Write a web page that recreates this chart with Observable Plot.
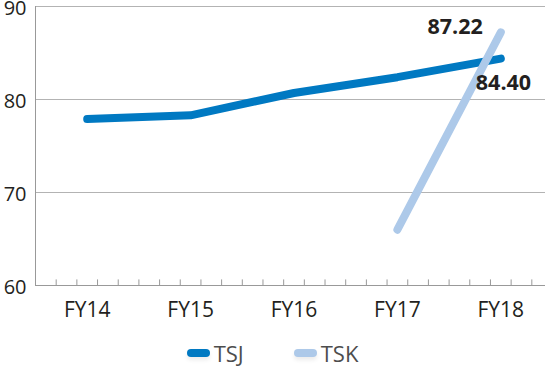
<!DOCTYPE html>
<html>
<head>
<meta charset="utf-8">
<script src="https://cdn.jsdelivr.net/npm/d3@7"></script>
<script src="https://cdn.jsdelivr.net/npm/@observablehq/plot@0.6"></script>
<style>
  html, body { margin: 0; padding: 0; background: #fff; }
  body { width: 545px; height: 375px; overflow: hidden; font-family: "Open Sans", sans-serif; }
  #legend { display: flex; justify-content: center; align-items: center; height: 45px; font-size: 22px; color: #4d4d4d; }
  .item { display: flex; align-items: center; }
  .swatch { width: 23px; height: 8px; border-radius: 4px; margin-right: 4px; box-shadow: 0 3px 4px rgba(0,0,0,0.08); }
</style>
</head>
<body>
<div id="chart"></div>
<div id="legend"></div>
<script>
const categories = ["FY14", "FY15", "FY16", "FY17", "FY18"];
const seriesNames = ["TSJ", "TSK"];
const tsj = [77.9, 78.3, 80.7, 82.4, 84.40];
const tsk = [null, null, null, 66.0, 87.22];
const yTicks = [60, 70, 80, 90];
const colors = ["#0079c2", "#adc9e9"];

const rows = [];
categories.forEach((c, i) => {
  if (tsj[i] != null) rows.push({i, cat: c, series: "TSJ", value: tsj[i]});
  if (tsk[i] != null) rows.push({i, cat: c, series: "TSK", value: tsk[i]});
});
const last = categories.length - 1;
const minorTicks = d3.range(1, categories.length * 5).map(k => -0.5 + k * 0.2);

const chart = Plot.plot({
  width: 545,
  height: 330,
  marginLeft: 35,
  marginRight: 0,
  marginTop: 6,
  marginBottom: 45,
  style: {fontFamily: "Open Sans, sans-serif", color: "#231f20", background: "#fff", overflow: "hidden"},
  x: {type: "linear", domain: [-0.5, categories.length - 0.5], range: [35, 552]},
  y: {domain: [60, 90], axis: null},
  color: {domain: seriesNames, range: colors},
  marks: [
    Plot.ruleY(yTicks.filter(d => d > 60), {stroke: "#b3b3b3", strokeWidth: 1}),
    Plot.ruleY([60], {stroke: "#999", strokeWidth: 1}),
    Plot.ruleX([-0.5], {stroke: "#999", strokeWidth: 1}),
    Plot.ruleX(minorTicks, {x: d => d, y1: 60, y2: 60.6, stroke: "#999", strokeWidth: 1}),
    Plot.text(yTicks, {x: -0.5, y: d => d, text: d => String(d), textAnchor: "end", dx: -9, dy: 2.5, fontSize: 20, fill: "#231f20"}),
    Plot.axisX({ticks: d3.range(categories.length), tickFormat: i => categories[i], tickSize: 0, tickPadding: 17, fontSize: 21, fill: "#231f20", label: null}),
    Plot.line(rows, {x: "i", y: "value", z: "series", stroke: "series", strokeWidth: 8, strokeLinecap: "round", strokeLinejoin: "round"}),
    Plot.text(rows.filter(d => d.i === last && d.series === "TSK"), {x: "i", y: "value", text: d => d.value.toFixed(2), textAnchor: "end", dx: -18, dy: -5, fontSize: 21.5, fontWeight: "bold", fill: "#231f20"}),
    Plot.text(rows.filter(d => d.i === last && d.series === "TSJ"), {x: "i", y: "value", text: d => d.value.toFixed(2), textAnchor: "start", dx: -25, dy: 25, fontSize: 21.5, fontWeight: "bold", fill: "#231f20"})
  ]
});
document.getElementById("chart").appendChild(chart);

const legend = document.getElementById("legend");
seriesNames.forEach((s, k) => {
  const it = document.createElement("div");
  it.className = "item";
  if (k > 0) it.style.marginLeft = "50px";
  const sw = document.createElement("span");
  sw.className = "swatch";
  sw.style.background = colors[k];
  const t = document.createElement("span");
  t.textContent = s;
  it.appendChild(sw); it.appendChild(t);
  legend.appendChild(it);
});
</script>
</body>
</html>
